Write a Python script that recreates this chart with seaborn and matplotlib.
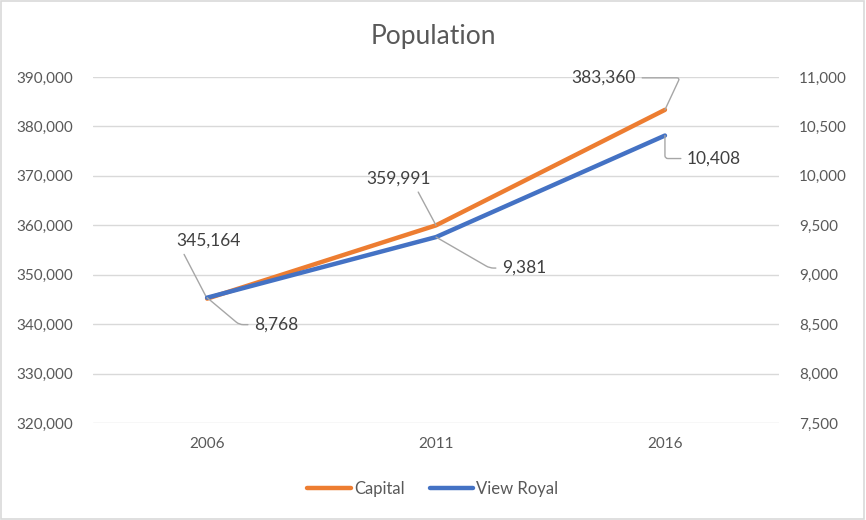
import matplotlib.pyplot as plt
import matplotlib.ticker as mticker
import pandas as pd
import seaborn as sns
from matplotlib.lines import Line2D
from matplotlib.patches import Rectangle

years = ["2006", "2011", "2016"]
capital = [345164, 359991, 383360]
view_royal = [8768, 9381, 10408]

sns.set_theme(style="white")
plt.rcParams['font.family'] = ['Lato', 'DejaVu Sans']

df = pd.DataFrame({"year": years, "Capital": capital, "View Royal": view_royal})

orange = "#ED7D31"
blue = "#4472C4"
txt = "#595959"

fig = plt.figure(figsize=(8.66, 5.2), dpi=100)
ax = fig.add_axes([0.107, 0.1865, 0.793, 0.6654])
ax2 = ax.twinx()

sns.lineplot(data=df, x="year", y="Capital", ax=ax, color=orange, linewidth=3.2, sort=False)
sns.lineplot(data=df, x="year", y="View Royal", ax=ax2, color=blue, linewidth=3.2, sort=False)

ax.set_xlim(-0.5, 2.5)
ax.set_ylim(320000, 390000)
ax2.set_ylim(7500, 11000)
ax.yaxis.set_major_locator(mticker.MultipleLocator(10000))
ax2.yaxis.set_major_locator(mticker.MultipleLocator(500))
fmt = mticker.FuncFormatter(lambda v, p: f"{v:,.0f}")
ax.yaxis.set_major_formatter(fmt)
ax2.yaxis.set_major_formatter(fmt)

ax.grid(axis="y", color="#d9d9d9", linewidth=1)
ax.set_axisbelow(True)
for a in (ax, ax2):
    for s in a.spines.values():
        s.set_visible(False)
    a.set_xlabel("")
    a.set_ylabel("")
    a.tick_params(length=0, labelsize=11, colors=txt)
ax.tick_params(axis="y", pad=14)
ax2.tick_params(axis="y", pad=14)
ax.tick_params(axis="x", pad=10)

# data labels with leader lines
lead = dict(arrowstyle="-", color="#a6a6a6", lw=1, shrinkA=2, shrinkB=0)
cap_off = [(1, 58), (-37, 47), (-61, 32)]
cap_rel = [(0.08, 0), (0.75, 0), (0.5, 0.5)]
cap_conn = ["arc3", "arc3", "angle,angleA=0,angleB=65,rad=3"]
vr_off = [(69, -27), (88, -31), (49, -23)]
vr_conn = ["angle,angleA=0,angleB=-40,rad=4", "angle,angleA=0,angleB=-30,rad=4",
           "angle,angleA=0,angleB=-90,rad=3"]
for i in range(len(years)):
    ax.annotate(f"{capital[i]:,}", xy=(i, capital[i]), xytext=cap_off[i],
                textcoords="offset pixels", ha="center", va="center",
                fontsize=12.5, color="#404040",
                arrowprops=dict(lead, connectionstyle=cap_conn[i], relpos=cap_rel[i]))
    ax2.annotate(f"{view_royal[i]:,}", xy=(i, view_royal[i]), xytext=vr_off[i],
                 textcoords="offset pixels", ha="center", va="center",
                 fontsize=12.5, color="#404040",
                 arrowprops=dict(lead, connectionstyle=vr_conn[i]))

fig.text(0.5, 0.929, "Population", ha="center", va="center", fontsize=19, color=txt)

handles = [Line2D([], [], color=orange, lw=3.2), Line2D([], [], color=blue, lw=3.2)]
fig.legend(handles, ["Capital", "View Royal"], loc="center", bbox_to_anchor=(0.5, 0.06),
           ncol=2, frameon=False, fontsize=12, labelcolor=txt, handlelength=2.6,
           handletextpad=0.2, columnspacing=1.5)

fig.patches.append(Rectangle((0.001, 0.002), 0.997, 0.996, transform=fig.transFigure,
                             fill=False, edgecolor="#d9d9d9", lw=1.2))

fig.savefig("out.png", dpi=100)
